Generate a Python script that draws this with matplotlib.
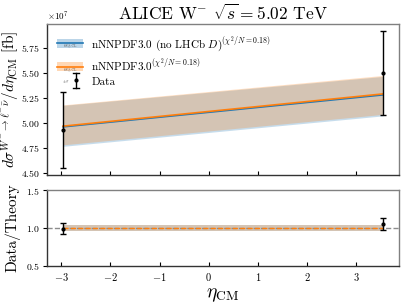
import numpy as np
import matplotlib
matplotlib.use("Agg")
import matplotlib.pyplot as plt
from matplotlib.legend_handler import HandlerBase
from matplotlib.patches import Rectangle
from matplotlib.lines import Line2D

plt.rcParams['font.family'] = 'serif'
plt.rcParams['font.serif'] = ['cmr10']
plt.rcParams['mathtext.fontset'] = 'cm'
plt.rcParams['axes.formatter.use_mathtext'] = True

# eta_CM bins of the two ALICE points
eta = [-2.96, 3.54]

# data (in units of 1e7 fb)
data_val = [4.926, 5.50]
data_err = [0.38, 0.42]

# nNNPDF3.0 (no LHCb D)
noD_central = [4.960, 5.280]
noD_low = [4.765, 5.070]
noD_high = [5.175, 5.465]

# nNNPDF3.0
nn_central = [4.967, 5.290]
nn_low = [4.780, 5.085]
nn_high = [5.180, 5.475]

# ratio panel
ratio_val = [0.992, 1.048]
ratio_err = [0.077, 0.077]
ratio_band = [0.035, 0.035]

scale = 1e7


class BandHandler(HandlerBase):
    # legend entry: shaded box with a line through it and a small "68% CL" tag
    def __init__(self, color):
        super().__init__()
        self.color = color

    def create_artists(self, legend, orig_handle, xdescent, ydescent, width, height, fontsize, trans):
        rect = Rectangle((-xdescent, -ydescent), width, height, facecolor=self.color,
                         alpha=0.3, edgecolor='none', transform=trans)
        line = Line2D([-xdescent, -xdescent + width], [height * 0.45] * 2, color=self.color,
                      lw=1.2, transform=trans)
        txt = plt.Text(-xdescent + width / 2, height * 0.2, '68% CL', fontsize=2.5,
                       ha='center', va='center', color='0.3', transform=trans)
        return [rect, line, txt]


class DataHandler(HandlerBase):
    def create_artists(self, legend, orig_handle, xdescent, ydescent, width, height, fontsize, trans):
        xc = -xdescent + width * 0.75
        bar = Line2D([xc, xc], [-0.3 * height, 1.3 * height], color='k', lw=1, transform=trans)
        cap1 = Line2D([xc - 2, xc + 2], [-0.3 * height] * 2, color='k', lw=1, transform=trans)
        cap2 = Line2D([xc - 2, xc + 2], [1.3 * height] * 2, color='k', lw=1, transform=trans)
        dot = Line2D([xc], [height / 2], marker='o', ms=2, color='k', transform=trans)
        txt = plt.Text(-xdescent + width * 0.35, height * 0.4, r'$\pm\sigma$', fontsize=3,
                       ha='center', va='center', color='0.3', transform=trans)
        return [bar, cap1, cap2, dot, txt]


fig = plt.figure(figsize=(4.07, 3.05), dpi=100)
ax = fig.add_axes([0.1155, 0.426, 0.865, 0.495])
axr = fig.add_axes([0.1155, 0.128, 0.865, 0.249], sharex=ax)

c_blue = '#1f77b4'
c_orange = '#ff7f0e'

# top panel
ax.fill_between(eta, np.array(noD_low) * scale, np.array(noD_high) * scale, color=c_blue, alpha=0.25, lw=0)
ax.plot(eta, np.array(noD_central) * scale, color=c_blue, lw=1.2)
ax.fill_between(eta, np.array(nn_low) * scale, np.array(nn_high) * scale, color=c_orange, alpha=0.25, lw=0)
ax.plot(eta, np.array(nn_central) * scale, color=c_orange, lw=1.2)
ax.errorbar(eta, np.array(data_val) * scale, yerr=np.array(data_err) * scale, fmt='o', ms=2,
            color='k', capsize=2, lw=1, capthick=1)

h1 = Rectangle((0, 0), 1, 1)
h2 = Rectangle((0, 0), 1, 1)
h3 = Line2D([], [])
ax.legend([h1, h2, h3],
          [r'nNNPDF3.0 (no LHCb $D$)$^{(\chi^2/N=0.18)}$',
           r'nNNPDF3.0$^{(\chi^2/N=0.18)}$',
           'Data'],
          handler_map={h1: BandHandler(c_blue), h2: BandHandler(c_orange), h3: DataHandler()},
          loc='upper left', frameon=False, fontsize=8, handlelength=2.3, handleheight=0.9,
          labelspacing=0.25)

ax.set_title(r'ALICE W$^{-}$ $\sqrt{s}=5.02$ TeV', fontsize=12.5, pad=3)
ax.set_ylabel(r'$d\sigma^{W^{-}\to\ell^{-}\bar{\nu}}/d\eta_{\rm CM}$ [fb]', fontsize=11)
ax.yaxis.set_label_coords(-0.072, 0.5)
ax.set_yticks([4.5e7, 4.75e7, 5.0e7, 5.25e7, 5.5e7, 5.75e7])
ax.tick_params(axis='x', labelbottom=False)
ax.yaxis.get_offset_text().set_fontsize(6.5)

# ratio panel
axr.axhline(1.0, color='0.55', ls='--', lw=1)
axr.fill_between(eta, 1 - np.array(ratio_band), 1 + np.array(ratio_band), color=c_blue, alpha=0.25, lw=0)
axr.fill_between(eta, 1 - np.array(ratio_band), 1 + np.array(ratio_band), color=c_orange, alpha=0.25, lw=0)
axr.plot(eta, [1.0, 1.0], color=c_orange, ls='--', lw=1)
axr.errorbar(eta, ratio_val, yerr=ratio_err, fmt='o', ms=2, color='k', capsize=2, lw=1, capthick=1)
axr.set_ylim(0.5, 1.5)
axr.set_yticks([0.5, 1.0, 1.5])
axr.set_ylabel('Data/Theory', fontsize=11, labelpad=4)
axr.set_xlabel(r'$\eta_{\rm CM}$', fontsize=14, labelpad=2)
axr.set_xticks([-3, -2, -1, 0, 1, 2, 3])

for a in (ax, axr):
    a.tick_params(axis='x', direction='in', length=3, labelsize=7.5)
    a.tick_params(axis='y', direction='out', length=3, labelsize=7, pad=2)
    for side in ('top', 'right'):
        a.spines[side].set_color('0.5')
    for side in ('left', 'bottom'):
        a.spines[side].set_color('0.2')
    for s in a.spines.values():
        s.set_linewidth(1)

fig.savefig('out.png', dpi=100)
